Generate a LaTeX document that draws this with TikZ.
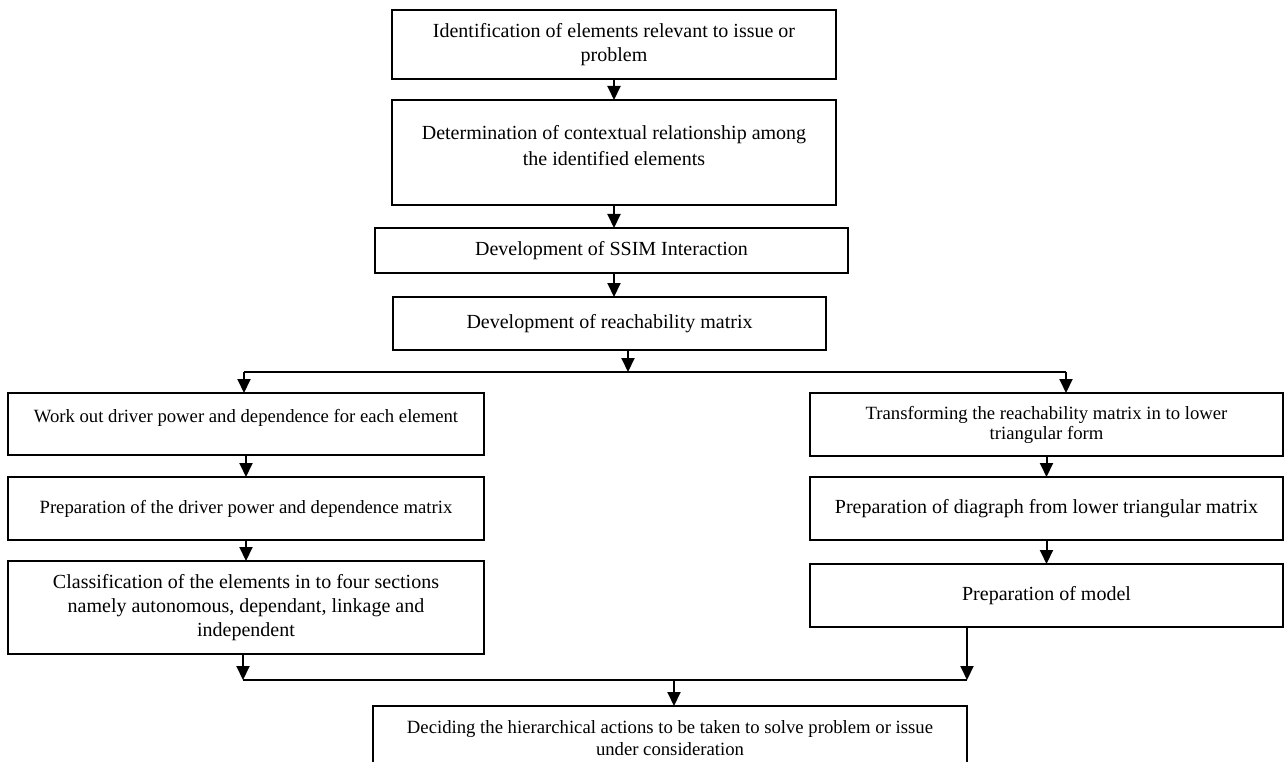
\documentclass[tikz,border=0pt]{standalone}
\usepackage{fontspec}
\setmainfont{Liberation Serif}
\usepackage{tikz}
\usetikzlibrary{positioning}
\usetikzlibrary{arrows.meta}
\tikzset{>={Triangle[length=14pt,width=13pt]}}

\begin{document}
\begin{tikzpicture}[x=1pt, y=-1pt, inner sep=0pt, outer sep=0pt,
  stage/.style={draw, line width=2pt, align=center, font=\fontsize{20}{24}\selectfont},
  smallstage/.style={stage, font=\fontsize{18.7}{22}\selectfont},
  flow/.style={->, line width=2pt}]
\useasboundingbox (0,0) rectangle (1285,762);
% main chain
\node[stage, minimum width=444pt, minimum height=69pt] (ident) at (614,44.5) {Identification of elements relevant to issue or\\problem};
\node[stage, minimum width=444pt, minimum height=105pt, text depth=14pt] (determ) at (614,152.5) {Determination of contextual relationship among\\[2pt]the identified elements};
\node[stage, minimum width=473pt, minimum height=45pt] (ssim) at (611.5,250.5) {Development of SSIM Interaction};
\node[stage, minimum width=433pt, minimum height=53pt] (reach) at (609.5,323.5) {Development of reachability matrix};
% left branch
\node[smallstage, minimum width=476pt, minimum height=62pt, text depth=16pt] (driver) at (246,424) {Work out driver power and dependence for each element};
\node[smallstage, minimum width=476pt, minimum height=63pt] (drvmat) at (246,508.5) {Preparation of the driver power and dependence matrix};
\node[stage, minimum width=476pt, minimum height=93pt] (classif) at (246,607.5) {Classification of the elements in to four sections\\namely autonomous, dependant, linkage and\\independent};
% right branch
\node[smallstage, font=\fontsize{18.7}{20}\selectfont, minimum width=473pt, minimum height=63pt] (transf) at (1046.5,424.5) {Transforming the reachability matrix in to lower\\triangular form};
\node[stage, minimum width=473pt, minimum height=63pt] (digraph) at (1046.5,508.5) {Preparation of diagraph from lower triangular matrix};
\node[stage, minimum width=473pt, minimum height=63pt] (model) at (1046.5,595.5) {Preparation of model};
% last step
\node[smallstage, minimum width=594pt, minimum height=64pt] (decide) at (670,738) {Deciding the hierarchical actions to be taken to solve problem or issue\\under consideration};

\coordinate (fork) at (628,372);
\coordinate (forkL) at (244,372);
\coordinate (forkR) at (1066,372);
\coordinate (join) at (674,680);
\coordinate (joinL) at (243,680);
\coordinate (joinR) at (967,680);

\draw[flow] (ident) -- (determ);
\draw[flow] (determ.south) -- (ssim.north -| determ.south);
\draw[flow] (ssim.south -| determ.south) -- (reach.north -| determ.south);
\draw[flow] (reach.south -| fork) -- (fork);
\draw[line width=2pt] (forkL) -- (forkR);
\draw[flow] (forkL) -- (forkL |- driver.north);
\draw[flow] (forkR) -- (forkR |- transf.north);
\draw[flow] (driver) -- (drvmat);
\draw[flow] (drvmat) -- (classif);
\draw[flow] (transf) -- (digraph);
\draw[flow] (digraph) -- (model);
\draw[flow] (classif.south -| joinL) -- (joinL);
\draw[flow] (joinR |- model.south) -- (joinR);
\draw[line width=2.8pt] (joinL) -- (joinR);
\draw[flow] (join) -- (join |- decide.north);
\end{tikzpicture}
\end{document}
